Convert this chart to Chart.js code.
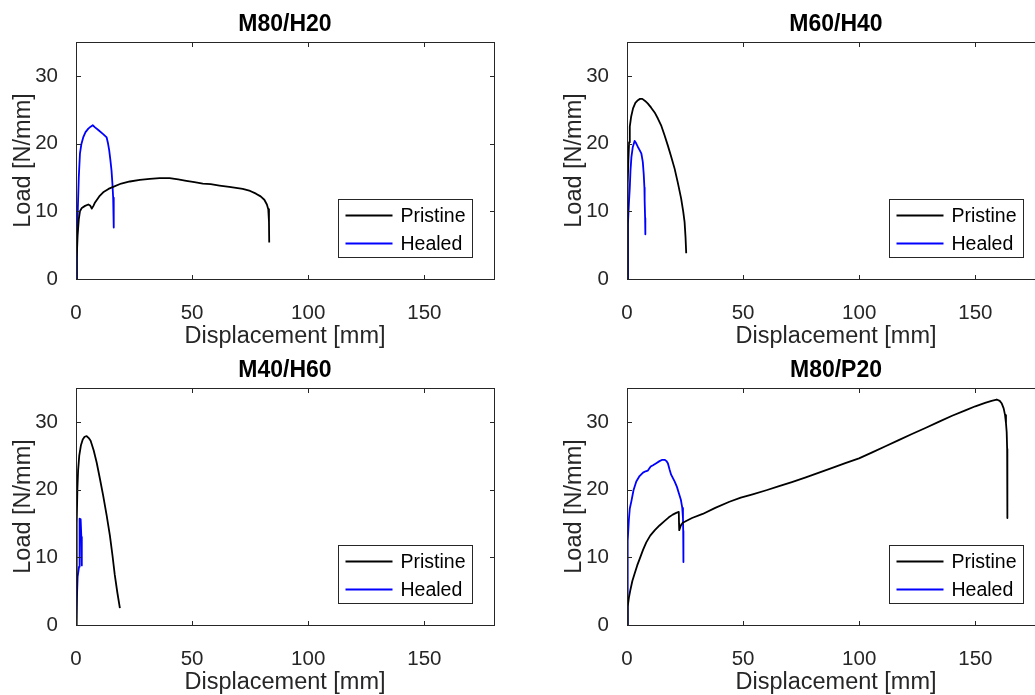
<!DOCTYPE html>
<html>
<head>
<meta charset="utf-8">
<script src="https://cdn.jsdelivr.net/npm/chart.js@4"></script>
<style>
  html, body { margin: 0; padding: 0; background: #fff; overflow: hidden; width: 1035px; height: 695px; }
  body { position: relative; }
  canvas { position: absolute; }
</style>
</head>
<body>
<canvas id="c0" width="520" height="360" style="left:0;top:0"></canvas>
<canvas id="c1" width="520" height="360" style="left:551px;top:0"></canvas>
<canvas id="c2" width="520" height="360" style="left:0;top:346px"></canvas>
<canvas id="c3" width="520" height="360" style="left:551px;top:346px"></canvas>
<script>
// panel titles and series names
const panelTitles = ['M80/H20', 'M60/H40', 'M40/H60', 'M80/P20'];
const seriesNames = ['Pristine', 'Healed'];
const seriesColors = ['#000000', '#0000ff'];

// tick labels
const xTicks = [0, 50, 100, 150];
const yTicks = [0, 10, 20, 30];

// [displacement mm, load N/mm]
const m80h20Pristine = [[0,0],[0.3,3],[0.7,6.5],[1.2,8.8],[1.7,10.0],[2.5,10.5],[3.9,10.8],[5.3,11.0],[6.2,10.8],[6.8,10.4],[7.5,10.8],[8.2,11.3],[10,12.2],[11.7,12.8],[14,13.3],[16,13.6],[19.5,14.1],[23.2,14.4],[27.5,14.65],[31.8,14.8],[36,14.9],[40.3,14.9],[44,14.7],[47.5,14.5],[51,14.3],[54.6,14.1],[58,14.0],[61.8,13.8],[66,13.6],[71.8,13.3],[75,13.0],[77.5,12.6],[79.5,12.2],[81.1,11.7],[82.2,11.0],[82.8,10.3],[83.1,8.5],[83.2,5.4]];
const m80h20Healed = [[0,0],[0.4,5],[0.8,10.5],[1.2,15],[1.7,18.5],[2.3,19.9],[3.1,20.9],[4.1,21.7],[5.3,22.2],[6.3,22.5],[7.2,22.7],[8.2,22.4],[9.6,22.0],[11.7,21.4],[13.2,20.9],[13.8,20.0],[14.3,19.0],[14.8,17.6],[15.3,16.0],[15.7,14.0],[16.0,12.0],[16.2,9.8],[16.3,7.6]];

const m60h40Pristine = [[0,0],[0.2,8],[0.4,14],[0.6,17.5],[0.9,20.2],[1.2,22.5],[1.8,24.0],[2.6,25.2],[3.6,26.0],[4.7,26.4],[5.6,26.6],[6.6,26.6],[7.8,26.3],[9.0,25.9],[10.4,25.3],[11.9,24.6],[13.3,23.7],[14.8,22.6],[16.2,21.2],[17.6,19.7],[19.0,18.1],[20.5,16.3],[21.9,14.2],[23.3,11.9],[24.2,10.0],[24.8,8.4],[25.2,6.2],[25.5,3.8]];
const m60h40Healed = [[0,0],[0.4,8.1],[0.8,11],[1.2,13.5],[1.5,16],[1.9,18.0],[2.5,19.5],[3.3,20.4],[4.0,20.0],[4.7,19.5],[5.5,19.0],[6.2,18.5],[6.8,17.3],[7.2,15.5],[7.5,13.5],[7.6,11.6],[7.8,9.0],[7.9,6.6]];

const m40h60Pristine = [[0,0],[0.2,8],[0.4,15],[0.6,20.1],[0.9,22.8],[1.4,25.0],[2.1,26.5],[2.9,27.4],[3.7,27.8],[4.6,27.9],[5.5,27.6],[6.3,27.2],[7.6,25.8],[8.9,24.0],[10.3,21.6],[11.7,19.1],[13.2,16.2],[14.6,13.2],[15.7,10.3],[16.7,7.4],[17.8,4.8],[18.9,2.5]];
const m40h60Healed = [[0,0],[0.7,7.1],[1.3,8.6],[1.5,12.0],[1.6,15.7],[2.0,15.6],[2.3,13.0],[2.5,8.8]];

const m80p20Pristine = [[0,0],[0.2,1.5],[0.4,2.7],[0.8,4.0],[1.4,5.1],[2.3,6.5],[3.3,7.6],[4.4,8.8],[5.5,9.8],[6.9,11.1],[8.3,12.2],[10,13.2],[12,14.0],[14,14.7],[16,15.3],[18,15.9],[19.7,16.3],[21.2,16.55],[22.3,16.7],[22.4,15.0],[22.5,14.0],[23.2,14.7],[24.0,15.1],[28,15.8],[32.6,16.4],[38,17.3],[44.1,18.2],[49,18.8],[54.1,19.3],[60,19.9],[65.5,20.5],[71,21.1],[77,21.8],[82.7,22.5],[88.4,23.2],[94,23.9],[99.9,24.6],[105.6,25.5],[111.3,26.4],[117,27.3],[122.7,28.2],[128.5,29.1],[134.2,30.0],[140,30.9],[145.7,31.7],[150,32.3],[154.2,32.8],[157,33.1],[159.2,33.3],[160.5,33.1],[161.4,32.7],[162.2,32.0],[162.8,31.0],[163.2,29.8],[163.5,28.5],[163.7,26],[163.8,15.8]];
const m80p20Healed = [[0,0],[0.2,5],[0.4,12.4],[0.8,15.5],[1.2,17.2],[1.9,18.3],[2.8,19.9],[4.0,21.2],[5.4,22.0],[6.9,22.5],[8.0,22.7],[9.0,22.8],[10.2,23.4],[11.2,23.6],[12.6,23.9],[14.0,24.2],[15.2,24.4],[16.2,24.4],[17.0,24.2],[17.6,23.9],[18.3,23.0],[19.0,22.2],[20.5,21.2],[21.5,20.4],[22.3,19.5],[23.2,18.5],[23.8,17.3],[24.1,15.8],[24.2,13.9],[24.3,9.3]];

const panelData = [
  [m80h20Pristine, m80h20Healed],
  [m60h40Pristine, m60h40Healed],
  [m40h60Pristine, m40h60Healed],
  [m80p20Pristine, m80p20Healed]
];

Chart.defaults.font.family = '"Liberation Sans", Arial, sans-serif';
Chart.defaults.color = '#262626';

// box, inward ticks on all sides, legend inside the axes
const matlabAxes = {
  id: 'matlabAxes',
  afterDraw(chart) {
    const { ctx, chartArea: a, scales: { x, y } } = chart;
    const L = Math.round(a.left) + 0.5, R = Math.round(a.right) + 0.5;
    const T = Math.round(a.top) + 0.5, B = Math.round(a.bottom) + 0.5;
    ctx.save();
    ctx.strokeStyle = '#262626';
    ctx.lineWidth = 1;
    ctx.strokeRect(L, T, R - L, B - T);
    ctx.beginPath();
    xTicks.forEach(v => {
      const px = Math.round(x.getPixelForValue(v)) + 0.5;
      ctx.moveTo(px, B); ctx.lineTo(px, B - 4.5);
      ctx.moveTo(px, T); ctx.lineTo(px, T + 4.5);
    });
    yTicks.forEach(v => {
      const py = Math.round(y.getPixelForValue(v)) + 0.5;
      ctx.moveTo(L, py); ctx.lineTo(L + 4.5, py);
      ctx.moveTo(R, py); ctx.lineTo(R - 4.5, py);
    });
    ctx.stroke();

    // legend
    const bx = L + 262, bw = 134, bh = 58, by = B - 22 - bh;
    ctx.fillStyle = '#fff';
    ctx.fillRect(bx, by, bw, bh);
    ctx.strokeRect(bx, by, bw, bh);
    ctx.font = '19.5px "Liberation Sans", Arial, sans-serif';
    ctx.textBaseline = 'middle';
    chart.data.datasets.forEach((ds, i) => {
      const ly = by + 16 + 28 * i;
      ctx.strokeStyle = ds.borderColor;
      ctx.lineWidth = 2;
      ctx.beginPath();
      ctx.moveTo(bx + 7, ly); ctx.lineTo(bx + 54, ly);
      ctx.stroke();
      ctx.fillStyle = '#000';
      ctx.fillText(ds.label, bx + 62, ly + 1);
    });
    ctx.restore();
  }
};

panelTitles.forEach((title, p) => {
  new Chart(document.getElementById('c' + p), {
    type: 'scatter',
    data: {
      datasets: panelData[p].map((pts, i) => ({
        label: seriesNames[i],
        data: pts.map(d => ({ x: d[0], y: d[1] })),
        showLine: true,
        borderColor: seriesColors[i],
        borderWidth: 1.8,
        borderJoinStyle: 'round',
        pointRadius: 0,
        tension: 0
      }))
    },
    options: {
      responsive: false,
      animation: false,
      layout: { padding: { left: 0, right: 26, top: 0, bottom: 0 } },
      plugins: {
        legend: { display: false },
        tooltip: { enabled: false },
        title: {
          display: true,
          text: title,
          fullSize: false,
          color: '#000',
          font: { size: 23, weight: 'bold' },
          padding: { top: 11, bottom: 3.4 }
        }
      },
      scales: {
        x: {
          type: 'linear',
          min: 0, max: 180,
          afterBuildTicks: s => { s.ticks = xTicks.map(v => ({ value: v })); },
          afterFit: s => { s.height = 81; },
          grid: { display: false },
          border: { display: false },
          ticks: { font: { size: 20.5 }, padding: 14, maxRotation: 0 },
          title: { display: true, text: 'Displacement [mm]', font: { size: 23.5 }, padding: 9 }
        },
        y: {
          type: 'linear',
          min: 0, max: 35,
          afterBuildTicks: s => { s.ticks = yTicks.map(v => ({ value: v })); },
          afterFit: s => { s.width = 76; },
          grid: { display: false },
          border: { display: false },
          ticks: { font: { size: 20.5 }, padding: 10 },
          title: { display: true, text: 'Load [N/mm]', font: { size: 23.5 }, padding: 9 }
        }
      }
    },
    plugins: [matlabAxes]
  });
});
</script>
</body>
</html>
